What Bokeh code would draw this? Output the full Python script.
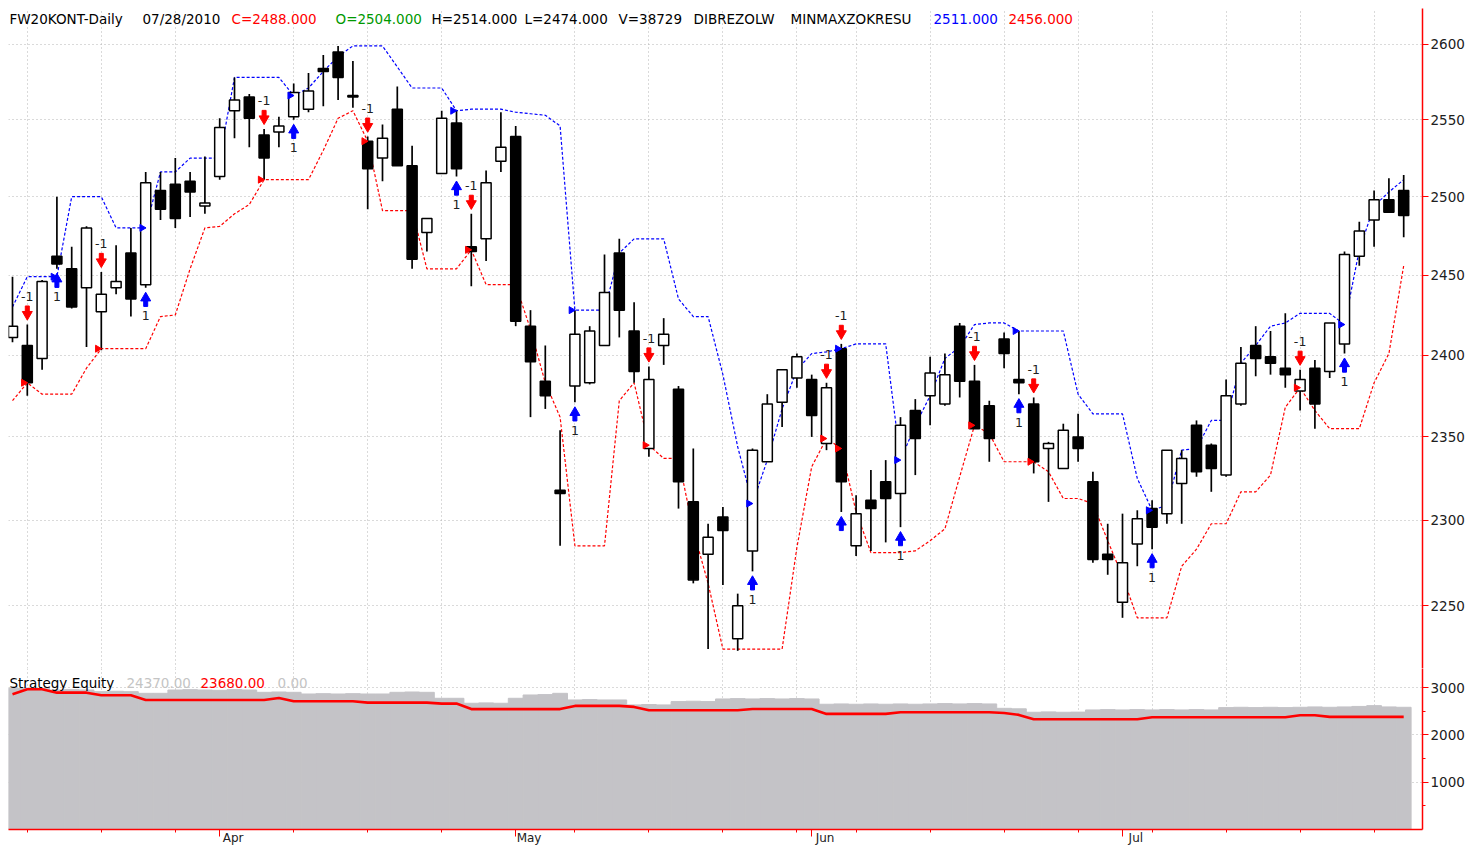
import numpy as np
import pandas as pd
from bokeh.plotting import figure
from bokeh.layouts import column
from bokeh.models import FixedTicker, PrintfTickFormatter, Label, Range1d, ColumnDataSource
from bokeh.embed import file_html
from bokeh.resources import INLINE

# ---------------- data ----------------
HOLIDAYS = ["2010-04-02", "2010-04-05", "2010-05-03", "2010-06-03"]
dates = [d for d in pd.bdate_range("2010-03-12", "2010-07-28")
         if d.strftime("%Y-%m-%d") not in HOLIDAYS]

open_ = [2411, 2406, 2398, 2462, 2454, 2442, 2427, 2442, 2464, 2444,
         2504, 2508, 2510, 2494, 2513, 2556, 2565, 2540, 2542, 2552,
         2557, 2584, 2595, 2566, 2536, 2525, 2557, 2520, 2477, 2515,
         2548, 2468, 2473, 2523, 2539, 2418, 2384, 2318, 2381, 2383,
         2406, 2464, 2415, 2343, 2406, 2379, 2311, 2280, 2302, 2231,
         2282, 2335, 2371, 2386, 2385, 2346, 2404, 2285, 2312, 2323,
         2316, 2366, 2375, 2370, 2418, 2384, 2369, 2410, 2385, 2370,
         2343, 2331, 2350, 2323, 2280, 2252, 2286, 2307, 2304, 2322,
         2357, 2345, 2327, 2370, 2406, 2399, 2392, 2378, 2392, 2390,
         2407, 2462, 2485, 2498, 2504]
high = [2449, 2419, 2447, 2500, 2468, 2481, 2452, 2469, 2480, 2516,
        2516, 2525, 2516, 2526, 2551, 2578, 2567, 2544, 2552, 2574,
        2581, 2593, 2599, 2589, 2539, 2547, 2572, 2533, 2486, 2556,
        2556, 2489, 2517, 2555, 2546, 2428, 2406, 2354, 2428, 2418,
        2463, 2473, 2433, 2393, 2423, 2381, 2343, 2298, 2308, 2257,
        2343, 2376, 2391, 2401, 2388, 2383, 2407, 2315, 2330, 2336,
        2362, 2373, 2399, 2401, 2420, 2394, 2372, 2414, 2415, 2374,
        2347, 2358, 2364, 2329, 2298, 2304, 2306, 2312, 2342, 2342,
        2360, 2346, 2385, 2405, 2418, 2415, 2426, 2391, 2397, 2420,
        2465, 2484, 2504, 2512, 2514]
low = [2408, 2375, 2391, 2454, 2429, 2405, 2403, 2438, 2424, 2442,
       2485, 2480, 2487, 2489, 2511, 2538, 2532, 2511, 2532, 2550,
       2555, 2559, 2563, 2558, 2492, 2510, 2520, 2454, 2465, 2515,
       2513, 2443, 2459, 2516, 2418, 2362, 2367, 2285, 2371, 2382,
       2406, 2411, 2383, 2338, 2394, 2307, 2263, 2225, 2262, 2224,
       2270, 2335, 2356, 2380, 2350, 2342, 2305, 2279, 2282, 2287,
       2296, 2327, 2357, 2369, 2374, 2355, 2335, 2392, 2376, 2328,
       2311, 2331, 2335, 2275, 2268, 2243, 2273, 2283, 2298, 2298,
       2326, 2317, 2326, 2369, 2387, 2388, 2380, 2366, 2355, 2386,
       2401, 2456, 2468, 2490, 2474]
close = [2418, 2383, 2446, 2457, 2430, 2480, 2438, 2446, 2435, 2509,
         2492, 2486, 2503, 2496, 2545, 2563, 2551, 2525, 2546, 2568,
         2569, 2582, 2578, 2565, 2518, 2538, 2520, 2460, 2486, 2551,
         2518, 2465, 2509, 2532, 2421, 2396, 2375, 2316, 2413, 2415,
         2439, 2428, 2390, 2385, 2413, 2323, 2265, 2290, 2294, 2250,
         2342, 2370, 2391, 2399, 2363, 2380, 2323, 2304, 2307, 2313,
         2357, 2349, 2389, 2388, 2384, 2355, 2349, 2401, 2383, 2335,
         2346, 2354, 2343, 2277, 2277, 2275, 2301, 2296, 2342, 2337,
         2329, 2331, 2375, 2395, 2398, 2395, 2388, 2385, 2370, 2420,
         2463, 2478, 2498, 2490, 2488]

# MINMAXZOKRESU channel
max_line = [2430, 2449, 2449, 2449, 2500, 2500, 2500, 2480, 2480, 2480,
            2516, 2516, 2525, 2525, 2525, 2578, 2578, 2578, 2578, 2566,
            2571, 2582, 2592, 2599, 2599, 2599, 2585, 2571, 2571, 2571,
            2556, 2557, 2557, 2557, 2555, 2554, 2553, 2546, 2428, 2428,
            2428, 2464, 2473, 2473, 2473, 2435, 2424, 2424, 2388, 2344,
            2310, 2336, 2367, 2391, 2401, 2402, 2404, 2407, 2407, 2407,
            2336, 2357, 2375, 2398, 2405, 2419, 2420, 2420, 2415, 2415,
            2415, 2415, 2376, 2364, 2364, 2364, 2325, 2306, 2309, 2342,
            2343, 2360, 2360, 2395, 2406, 2418, 2420, 2426, 2426, 2426,
            2419, 2466, 2494, 2503, 2511]
min_line = [2372, 2383, 2376, 2376, 2376, 2392, 2404, 2404, 2404, 2404,
            2424, 2425, 2454, 2480, 2481, 2489, 2495, 2511, 2511, 2511,
            2511, 2530, 2551, 2556, 2536, 2491, 2491, 2491, 2454, 2454,
            2454, 2466, 2444, 2444, 2444, 2416, 2383, 2362, 2285, 2285,
            2285, 2372, 2383, 2345, 2337, 2337, 2294, 2263, 2225, 2225,
            2225, 2225, 2225, 2284, 2332, 2349, 2343, 2305, 2281, 2281,
            2281, 2282, 2288, 2295, 2326, 2357, 2352, 2335, 2335, 2335,
            2329, 2313, 2313, 2310, 2288, 2267, 2243, 2243, 2243, 2273,
            2283, 2298, 2298, 2317, 2317, 2327, 2368, 2380, 2366, 2355,
            2355, 2355, 2383, 2401, 2456]

# DIBREZOLW signals (bar indices)
buy_idx = [3, 9, 19, 30, 38, 50, 56, 60, 68, 77, 90]
buy_label_idx = [3, 9, 19, 30, 38, 50, 60, 68, 77, 90]
sell_idx = [1, 6, 17, 24, 31, 43, 55, 56, 65, 69, 87]

# Strategy equity (axis units)
equity_open = [2983, 2990, 2983, 2947, 2955, 2947, 2912, 2920, 2912, 2877,
               2877, 2947, 2955, 2947, 2940, 2955, 2947, 2898, 2905, 2898,
               2863, 2870, 2863, 2870, 2863, 2863, 2898, 2905, 2898, 2772,
               2772, 2667, 2675, 2667, 2772, 2842, 2850, 2877, 2737, 2745,
               2737, 2737, 2632, 2640, 2632, 2702, 2710, 2702, 2758, 2765,
               2758, 2765, 2758, 2765, 2758, 2646, 2653, 2646, 2653, 2646,
               2653, 2646, 2653, 2660, 2653, 2660, 2653, 2560, 2550, 2477,
               2485, 2477, 2480, 2526, 2533, 2526, 2533, 2526, 2533, 2526,
               2533, 2526, 2575, 2582, 2575, 2582, 2575, 2582, 2590, 2582,
               2590, 2600, 2617, 2590, 2582]
equity_close = [2857, 2962, 2962, 2891, 2891, 2891, 2835, 2835, 2835, 2737,
                2737, 2737, 2737, 2737, 2737, 2737, 2737, 2737, 2779, 2709,
                2709, 2709, 2709, 2709, 2681, 2681, 2681, 2681, 2681, 2660,
                2660, 2544, 2544, 2544, 2544, 2544, 2544, 2544, 2611, 2611,
                2611, 2611, 2590, 2520, 2520, 2520, 2520, 2520, 2520, 2520,
                2547, 2547, 2547, 2547, 2547, 2442, 2442, 2442, 2442, 2442,
                2478, 2478, 2478, 2478, 2478, 2478, 2478, 2460, 2421, 2330,
                2330, 2330, 2330, 2330, 2330, 2330, 2330, 2372, 2372, 2372,
                2372, 2372, 2372, 2372, 2372, 2372, 2372, 2414, 2414, 2380,
                2380, 2380, 2380, 2380, 2380]

price_ticks = [2250, 2300, 2350, 2400, 2450, 2500, 2550, 2600]
equity_ticks = [1000, 2000, 3000]
equity_minor = [500, 1500, 2500]

header = [(9, "FW20KONT-Daily", "black"), (142, "07/28/2010", "black"),
          (231, "C=2488.000", "#ff0000"), (335, "O=2504.000", "#009900"),
          (431, "H=2514.000", "black"), (524, "L=2474.000", "black"),
          (618, "V=38729", "black"), (693, "DIBREZOLW", "black"),
          (790, "MINMAXZOKRESU", "black"), (933, "2511.000", "#0000ff"),
          (1008, "2456.000", "#ff0000")]
eq_header = [(9, "Strategy Equity", "black"), (126, "24370.00", "#c4c4c4"),
             (200, "23680.00", "#ff0000"), (277, "0.00", "#c4c4c4")]

# ---------------- layout constants ----------------
LEFT = 8                          # frame starts 8px into the page
W = 1474
PRICE_H = 660                     # frame height of the price panel
EQ_H = 179
BAR_PX = 14.8
FRAME_W = 1414
FIRST_PX = 4
YTOP, YBOT = 2624.2, 2213.9
EQ_FH = 161.0                     # expected frame height of the equity panel
EQ_TOP = 3000 * EQ_FH / (EQ_FH - 19)
FONT = "DejaVu Sans"
GRID_COL = "#b4b4b4"

n = len(dates)
idx = np.arange(n)
dts = pd.DatetimeIndex(dates)
mondays = [int(i) for i in idx if dts[i].weekday() == 0]
month_starts = [int(i) for i in idx[1:] if dts[i].month != dts[i - 1].month]
month_labels = {i: "\u00a0" * 7 + dts[i].strftime("%b") for i in month_starts}

K = PRICE_H / np.log(YTOP / YBOT)    # px per ln-unit


def shift(price, px):
    return np.asarray(price, dtype=float) * np.exp(px / K)


def xdata(page_x):
    return (page_x - LEFT - FIRST_PX) / BAR_PX


xr = Range1d(-FIRST_PX / BAR_PX, (FRAME_W - FIRST_PX) / BAR_PX)

# ---------------- price panel ----------------
p = figure(width=W, height=PRICE_H + 8, x_range=xr, y_range=Range1d(YBOT, YTOP),
           y_axis_type="log", x_axis_location=None, y_axis_location="right",
           toolbar_location=None, output_backend="svg", title=None,
           min_border_left=LEFT, min_border_right=52, min_border_top=8,
           min_border_bottom=0)
p.outline_line_color = None
p.background_fill_color = "white"
p.border_fill_color = "white"

ya = p.yaxis[0]
ya.ticker = FixedTicker(ticks=price_ticks)
ya.formatter = PrintfTickFormatter(format="%d")
ya.axis_line_color = "#ff0000"
ya.axis_line_width = 1.5
ya.major_tick_line_color = "#ff0000"
ya.major_tick_out = 6
ya.major_tick_in = 0
ya.minor_tick_line_color = None
ya.major_label_text_font = FONT
ya.major_label_text_font_size = "13.5px"
ya.major_label_text_color = "#202020"
ya.major_label_standoff = 2

for g in (p.xgrid[0], p.ygrid[0]):
    g.grid_line_color = GRID_COL
    g.grid_line_dash = "1 3"
    g.grid_line_width = 1
p.xgrid[0].ticker = FixedTicker(ticks=mondays)

# channel lines
p.line(idx, max_line, line_color="#0000ff", line_dash="3 2", line_width=1.2)
p.line(idx, min_line, line_color="#ff0000", line_dash="3 2", line_width=1.2)

# candles
o = np.array(open_, float)
c = np.array(close, float)
src = ColumnDataSource(dict(
    x=idx, high=high, low=low,
    top=np.maximum(o, c), bottom=np.minimum(o, c),
    fill=["white" if cc >= oo else "black" for oo, cc in zip(o, c)]))
p.segment(x0="x", y0="low", x1="x", y1="high", source=src,
          line_color="black", line_width=1.7)
p.vbar(x="x", width=0.68, top="top", bottom="bottom", fill_color="fill",
       line_color="black", line_width=1.5, source=src)

# entry/exit markers on the channel
p.scatter(np.array(buy_idx) - 0.25, [max_line[i] for i in buy_idx],
          marker="triangle", angle=-np.pi / 2, size=7,
          fill_color="#0000ff", line_color="#0000ff")
p.scatter(np.array(sell_idx) - 0.25, [min_line[i] for i in sell_idx],
          marker="triangle", angle=-np.pi / 2, size=7,
          fill_color="#ff0000", line_color="#ff0000")

# sell arrows
sh = [high[i] for i in sell_idx]
p.scatter(sell_idx, shift(sh, 10.2), marker="inverted_triangle", size=10,
          fill_color="#ff0000", line_color="#ff0000")
p.rect(sell_idx, shift(sh, 15.6), width=4, height=6, width_units="screen",
       height_units="screen", fill_color="#ff0000", line_color="#ff0000")
p.text(sell_idx, shift(sh, 28), text=["-1"] * len(sell_idx),
       text_align="center", text_baseline="middle", text_font_size="12.5px",
       text_font={"value": FONT}, text_color="#202020")

# buy arrows
bl = [low[i] for i in buy_idx]
p.scatter(buy_idx, shift(bl, -10.2), marker="triangle", size=10,
          fill_color="#0000ff", line_color="#0000ff")
p.rect(buy_idx, shift(bl, -15.6), width=4, height=6, width_units="screen",
       height_units="screen", fill_color="#0000ff", line_color="#0000ff")
bll = [low[i] for i in buy_label_idx]
p.text(buy_label_idx, shift(bll, -28), text=["1"] * len(buy_label_idx),
       text_align="center", text_baseline="middle", text_font_size="12.5px",
       text_font={"value": FONT}, text_color="#202020")

hy = YTOP * np.exp(-10 / K)
for px_, txt, col in header:
    p.add_layout(Label(x=xdata(px_), y=hy, text=txt, text_color=col,
                       text_font=FONT, text_font_size="13.5px",
                       text_align="left", text_baseline="middle"))

# ---------------- equity panel ----------------
q = figure(width=W, height=EQ_H, x_range=xr, y_range=Range1d(0, EQ_TOP),
           x_axis_location="below", y_axis_location="right",
           toolbar_location=None, output_backend="svg", title=None,
           min_border_left=LEFT, min_border_right=52, min_border_top=0,
           min_border_bottom=0)
q.outline_line_color = None
q.background_fill_color = "white"
q.border_fill_color = "white"

qa = q.yaxis[0]
qa.ticker = FixedTicker(ticks=equity_ticks, minor_ticks=equity_minor)
qa.formatter = PrintfTickFormatter(format="%d")
qa.axis_line_color = "#ff0000"
qa.axis_line_width = 1.5
qa.major_tick_line_color = "#ff0000"
qa.minor_tick_line_color = "#ff0000"
qa.major_tick_out = 6
qa.major_tick_in = 0
qa.minor_tick_out = 3
qa.minor_tick_in = 0
qa.major_label_text_font = FONT
qa.major_label_text_font_size = "13.5px"
qa.major_label_text_color = "#202020"
qa.major_label_standoff = 2

xa = q.xaxis[0]
xa.ticker = FixedTicker(ticks=month_starts, minor_ticks=mondays)
xa.major_label_overrides = month_labels
xa.axis_line_color = "#ff0000"
xa.axis_line_width = 1.5
xa.major_tick_line_color = "#ff0000"
xa.minor_tick_line_color = "#ff0000"
xa.major_tick_out = 7
xa.major_tick_in = 0
xa.minor_tick_out = 3
xa.minor_tick_in = 0
xa.major_label_text_font = FONT
xa.major_label_text_font_size = "12px"
xa.major_label_text_color = "#202020"
xa.major_label_standoff = -6

for g in (q.xgrid[0], q.ygrid[0]):
    g.grid_line_color = GRID_COL
    g.grid_line_dash = "1 3"
    g.grid_line_width = 1
q.xgrid[0].ticker = FixedTicker(ticks=mondays)

q.vbar(x=idx, width=1.0, top=equity_open, bottom=0,
       fill_color="#c4c3c7", line_color="#c4c3c7", line_width=1)
q.line(idx, equity_close, line_color="#ff0000", line_width=2.6)

ey = EQ_TOP - (682 - 668) * EQ_TOP / EQ_FH
for px_, txt, col in eq_header:
    q.add_layout(Label(x=xdata(px_), y=ey, text=txt, text_color=col,
                       text_font=FONT, text_font_size="13.5px",
                       text_align="left", text_baseline="middle"))

layout = column(p, q, spacing=0)
open("out.html", "w").write(file_html(layout, INLINE))
